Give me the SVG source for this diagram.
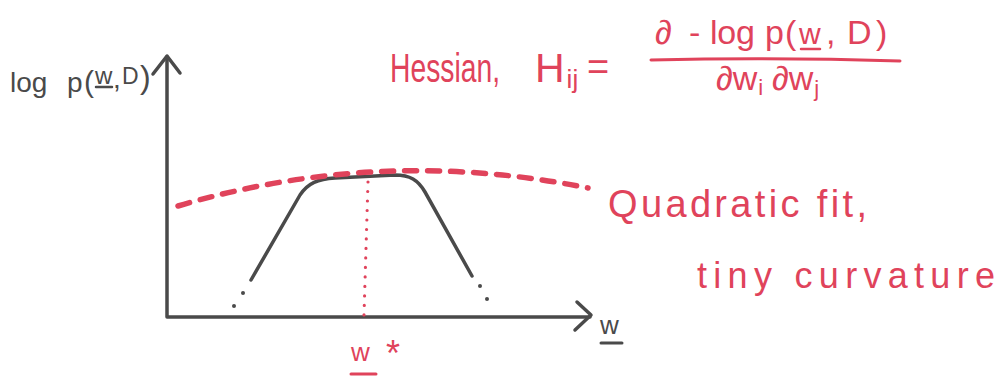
<svg xmlns="http://www.w3.org/2000/svg" width="1000" height="379" viewBox="0 0 1000 379">
<style>
.ink{fill:none;stroke:#4a4a4a;stroke-width:3.5;stroke-linecap:round;stroke-linejoin:round}
.red{fill:none;stroke:#e0435b;stroke-linecap:round}
.tk{font-family:"Liberation Sans",Arial,sans-serif;fill:#4a4a4a}
.tr{font-family:"Liberation Sans",Arial,sans-serif;fill:#e0435b}
.dot{fill:#4a4a4a}
</style>
<rect width="1000" height="379" fill="#ffffff"/>
<g id="axes">
<path class="ink" d="M167,57 L167,317 L590,317"/>
<path class="ink" d="M153,74 L167,56 L180,73"/>
<path class="ink" d="M577,302 L591,315 L575,330"/>
</g>
<g id="curve">
<path class="ink" d="M251,280 L300,195 C308,183 318,179 335,178 L395,175 C410,175 418,180 425,192 L472,276"/>
<circle class="dot" cx="243" cy="293" r="2"/>
<circle class="dot" cx="234" cy="306" r="2"/>
<circle class="dot" cx="480" cy="286" r="2"/>
<circle class="dot" cx="487" cy="299" r="2"/>
</g>
<g id="quadratic-fit">
<path class="red" stroke-width="5.5" stroke-dasharray="12 11" d="M178,206 Q380,146 588,188"/>
<path class="red" stroke-width="3.2" stroke-dasharray="0 9.5" d="M368,182 L364,315"/>
</g>
<g id="y-label">
<text class="tk" x="10" y="92" font-size="28">log<tspan x="67">p</tspan><tspan x="84" font-size="30">(</tspan><tspan x="95" y="84" font-size="24">w</tspan><tspan x="113" y="88">,</tspan><tspan x="122" y="84" font-size="23">D</tspan><tspan x="140" y="88" font-size="32">)</tspan></text>
<line x1="96" y1="87" x2="112" y2="87" stroke="#4a4a4a" stroke-width="2.5" stroke-linecap="round"/>
</g>
<g id="x-label">
<text class="tk" x="600" y="334" font-size="26">w</text>
<line x1="601" y1="343" x2="622" y2="343" stroke="#4a4a4a" stroke-width="3" stroke-linecap="round"/>
</g>
<g id="w-star">
<text class="tr" x="351" y="361" font-size="26">w<tspan x="386" y="366" font-size="36">*</tspan></text>
<line x1="351" y1="374" x2="376" y2="374" stroke="#e0435b" stroke-width="3" stroke-linecap="round"/>
</g>
<g id="hessian">
<text class="tr" transform="translate(390,82) scale(0.69,1)" x="0" y="0" font-size="41">Hessian,</text>
<text class="tr" x="535" y="82" font-size="41">H<tspan font-size="26" dx="2" dy="6">ij</tspan></text>
<text class="tr" x="587" y="80" font-size="38">=</text>
<text class="tr" x="655" y="44" font-size="34">∂<tspan x="689">-</tspan><tspan x="710" textLength="45" lengthAdjust="spacing">log</tspan><tspan x="765">p</tspan><tspan x="785">(</tspan><tspan x="799" font-size="30">w</tspan><tspan x="826">,</tspan><tspan x="847">D</tspan><tspan x="876">)</tspan></text>
<line x1="801" y1="49" x2="820" y2="49" stroke="#e0435b" stroke-width="2.5" stroke-linecap="round"/>
<path class="red" stroke-width="3" d="M651,60 Q775,57 900,61"/>
<text class="tr" x="716" y="90" font-size="34">∂w<tspan font-size="22" dx="1" dy="5">i</tspan><tspan x="772" dy="-5">∂w</tspan><tspan font-size="22" dx="1" dy="6">j</tspan></text>
</g>
<g id="fit-label">
<text class="tr" x="608" y="217" font-size="38" textLength="259" lengthAdjust="spacing">Quadratic fit,</text>
<text class="tr" x="697" y="288" font-size="36" textLength="298" lengthAdjust="spacing">tiny curvature</text>
</g>
</svg>
